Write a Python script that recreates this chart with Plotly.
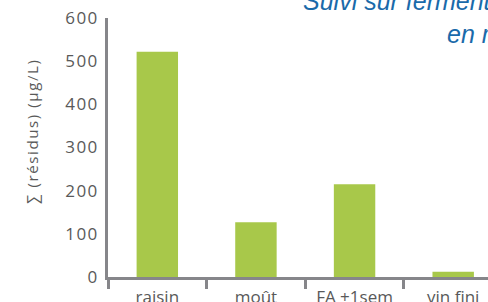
import plotly.graph_objects as go

categories = ["raisin", "moût", "FA +1sem", "vin fini"]
values = [522, 127, 215, 12]
y_ticks = [0, 100, 200, 300, 400, 500, 600]
y_title = "∑ (résidus) (µg/L)"
title_line1 = "Suivi sur fermentation"
title_line2 = "en microvinification"

W, H = 488, 302
L, R, T, B = 108, 0, 18, 25
pw = W - L - R
ph = H - T - B

fig = go.Figure()
fig.add_trace(go.Bar(
    x=categories, y=values,
    marker=dict(color="#A8C84A", line=dict(width=0)),
    width=0.42,
))

def px_x(px):
    return (px - L) / pw

def px_y(py):
    return (H - B - py) / ph

def spaced(t, s):
    return f'<span style="letter-spacing:{s}px">{t}</span>'

fig.update_layout(
    width=W, height=H,
    margin=dict(l=L, r=R, t=T, b=B, autoexpand=False),
    plot_bgcolor="white", paper_bgcolor="white",
    showlegend=False,
    font=dict(family="Open Sans", color="#595959", size=15),
    xaxis=dict(
        type="category",
        range=[-0.5, 3.353],
        showline=True, linecolor="#86868A", linewidth=2.5,
        ticks="outside", tickson="boundaries", ticklen=9, tickwidth=2.5,
        tickcolor="#86868A",
        tickfont=dict(size=17, color="#595959"),
        ticklabelstandoff=3,
        showgrid=False, zeroline=False,
    ),
    yaxis=dict(
        range=[0, 600],
        tickvals=y_ticks,
        ticktext=[spaced(str(v), 1.5) for v in y_ticks],
        showline=True, linecolor="#86868A", linewidth=2.5,
        ticks="outside", ticklen=3, tickcolor="rgba(0,0,0,0)",
        tickfont=dict(size=17, color="#595959"),
        showgrid=False, zeroline=False,
    ),
    annotations=[
        dict(text=spaced(y_title, 1.6), textangle=-90,
             xref="paper", yref="paper", x=px_x(32), y=px_y(131),
             xanchor="center", yanchor="middle", showarrow=False,
             font=dict(family="Open Sans", size=15, color="#595959")),
        dict(text="<i>" + title_line1 + "</i>",
             xref="paper", yref="paper", x=px_x(301), y=px_y(17),
             xanchor="left", yanchor="bottom", showarrow=False,
             font=dict(family="Liberation Sans", size=25, color="#1A6AAA")),
        dict(text="<i>" + title_line2 + "</i>",
             xref="paper", yref="paper", x=px_x(445), y=px_y(50),
             xanchor="left", yanchor="bottom", showarrow=False,
             font=dict(family="Liberation Sans", size=25, color="#1A6AAA")),
    ],
)

fig.write_html("out.html", config={"displayModeBar": False},
               post_script="document.body.style.margin='0px';")
